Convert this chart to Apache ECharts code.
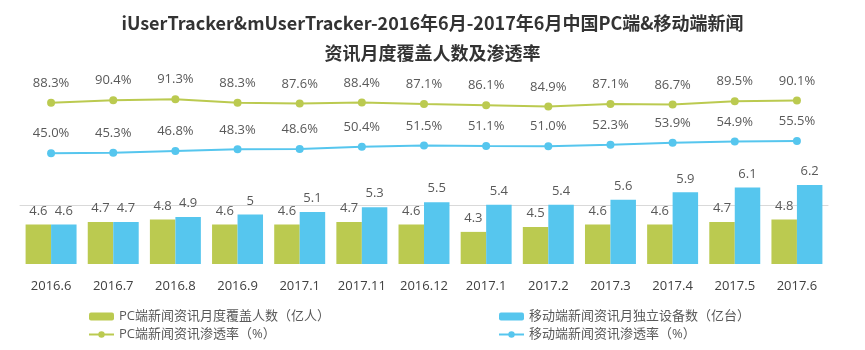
<!DOCTYPE html>
<html>
<head>
<meta charset="utf-8">
<script src="https://cdn.jsdelivr.net/npm/echarts@6/dist/echarts.min.js"></script>
<style>
  html, body { margin: 0; padding: 0; background: #fff; }
  #chart { width: 865px; height: 350px; }
</style>
</head>
<body>
<div id="chart"></div>
<script>
// 横轴月份
const categories = ['2016.6', '2016.7', '2016.8', '2016.9', '2017.1', '2017.11', '2016.12',
  '2017.1', '2017.2', '2017.3', '2017.4', '2017.5', '2017.6']
// 覆盖人数（亿人 / 亿台）
const pcUsers = [4.6, 4.7, 4.8, 4.6, 4.6, 4.7, 4.6, 4.3, 4.5, 4.6, 4.6, 4.7, 4.8]
const mobileDevices = [4.6, 4.7, 4.9, 5, 5.1, 5.3, 5.5, 5.4, 5.4, 5.6, 5.9, 6.1, 6.2]
// 渗透率（%）
const pcRate = [88.3, 90.4, 91.3, 88.3, 87.6, 88.4, 87.1, 86.1, 84.9, 87.1, 86.7, 89.5, 90.1]
const mobileRate = [45.0, 45.3, 46.8, 48.3, 48.6, 50.4, 51.5, 51.1, 51.0, 52.3, 53.9, 54.9, 55.5]

const names = [
  'PC端新闻资讯月度覆盖人数（亿人）',
  '移动端新闻资讯月独立设备数（亿台）',
  'PC端新闻资讯渗透率（%）',
  '移动端新闻资讯渗透率（%）',
]
const green = '#bbca50'
const blue = '#56c6ee'
const font = '"Open Sans", "Noto Sans CJK SC", sans-serif'

const chart = echarts.init(document.getElementById('chart'))

const labelStyle = {
  show: true,
  color: '#595959',
  fontSize: 13,
  fontFamily: font,
}

// 图例分成左右两列
const legendBase = {
  orient: 'vertical',
  top: 310,
  padding: 0,
  itemWidth: 25,
  itemHeight: 8,
  itemGap: 5,
  textStyle: { color: '#595959', fontSize: 13, fontFamily: font },
}

chart.setOption({
  backgroundColor: '#fff',
  animation: false,
  title: {
    text: 'iUserTracker&mUserTracker-2016年6月-2017年6月中国PC端&移动端新闻\n资讯月度覆盖人数及渗透率',
    left: 'center',
    top: 3,
    textStyle: {
      color: '#333',
      fontSize: 18,
      fontWeight: 'bold',
      lineHeight: 30,
      fontFamily: '"Noto Sans CJK SC", sans-serif',
    },
  },
  legend: [
    Object.assign({ left: 88, data: [names[0], names[2]] }, legendBase),
    Object.assign({ left: 498, data: [names[1], names[3]] }, legendBase),
  ],
  grid: { left: 20, right: 37, top: 54, bottom: 86 },
  xAxis: {
    type: 'category',
    data: categories,
    axisTick: { show: false },
    axisLine: { lineStyle: { color: '#d9d9d9', width: 1 } },
    axisLabel: {
      color: '#404040',
      fontSize: 13,
      margin: 16,
      interval: 0,
      fontFamily: font,
    },
  },
  yAxis: [
    { type: 'value', min: 3, max: 11.5, show: false, splitLine: { show: false } },
    { type: 'value', min: -50, max: 130, show: false, splitLine: { show: false } },
  ],
  series: [
    {
      name: names[0],
      type: 'bar',
      data: pcUsers,
      barGap: '0%',
      barCategoryGap: '18%',
      itemStyle: { color: green },
      label: Object.assign({ position: 'top', distance: 7 }, labelStyle),
    },
    {
      name: names[1],
      type: 'bar',
      data: mobileDevices,
      itemStyle: { color: blue },
      label: Object.assign({ position: 'top', distance: 7 }, labelStyle),
    },
    {
      name: names[2],
      type: 'line',
      yAxisIndex: 1,
      data: pcRate,
      symbol: 'circle',
      symbolSize: 8,
      lineStyle: { color: green, width: 2 },
      itemStyle: { color: green },
      label: Object.assign({ position: 'top', distance: 9, formatter: p => p.value.toFixed(1) + '%' }, labelStyle),
    },
    {
      name: names[3],
      type: 'line',
      yAxisIndex: 1,
      data: mobileRate,
      symbol: 'circle',
      symbolSize: 8,
      lineStyle: { color: blue, width: 2 },
      itemStyle: { color: blue },
      label: Object.assign({ position: 'top', distance: 9, formatter: p => p.value.toFixed(1) + '%' }, labelStyle),
    },
  ],
})
</script>
</body>
</html>
